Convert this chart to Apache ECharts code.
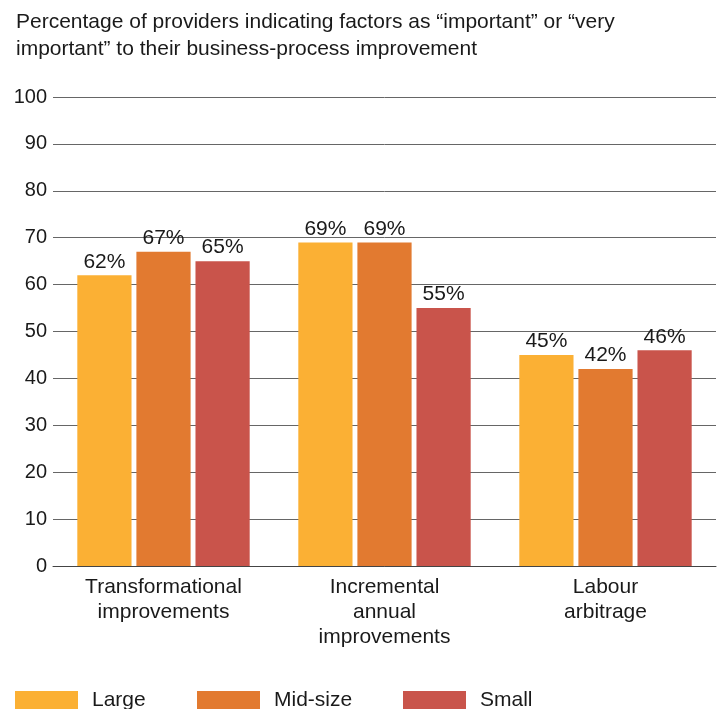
<!DOCTYPE html>
<html>
<head>
<meta charset="utf-8">
<script src="https://cdn.jsdelivr.net/npm/echarts@6/dist/echarts.min.js"></script>
<style>
  html, body { margin: 0; padding: 0; background: #fff; }
  #chart { width: 720px; height: 709px; }
</style>
</head>
<body>
<div id="chart"></div>
<script>
// Survey categories and per-size shares (percent)
const categories = ['Transformational\nimprovements', 'Incremental\nannual\nimprovements', 'Labour\narbitrage'];
const seriesNames = ['Large', 'Mid-size', 'Small'];
const largeValues = [62, 69, 45];
const midValues = [67, 69, 42];
const smallValues = [65, 55, 46];
const yTicks = [0, 10, 20, 30, 40, 50, 60, 70, 80, 90, 100];
const colors = ['#FBB034', '#E27A30', '#C9544B'];

const FONT = '"Liberation Sans", Arial, sans-serif';
const TEXT = '#1a1a1a';

const chart = echarts.init(document.getElementById('chart'), null, { renderer: 'canvas' });

function barSeries(name, values, color) {
  return {
    name: name,
    type: 'bar',
    data: values,
    itemStyle: { color: color },
    barGap: '9%',
    barCategoryGap: '22%',
    label: {
      show: true,
      position: 'top',
      distance: 3,
      formatter: '{c}%',
      color: TEXT,
      fontFamily: FONT,
      fontSize: 21
    }
  };
}

const legendBase = {
  top: 690,
  padding: 0,
  itemWidth: 63,
  itemHeight: 19,
  icon: 'rect',
  textStyle: { color: TEXT, fontFamily: FONT, fontSize: 21, padding: [0, 0, 0, 9] }
};

chart.setOption({
  animation: false,
  color: colors,
  title: {
    text: 'Percentage of providers indicating factors as “important” or “very\nimportant” to their business-process improvement',
    left: 16,
    top: 9,
    padding: 0,
    textStyle: { color: TEXT, fontFamily: FONT, fontSize: 21, fontWeight: 'normal', lineHeight: 27 }
  },
  legend: [
    Object.assign({}, legendBase, { left: 15, data: [seriesNames[0]] }),
    Object.assign({}, legendBase, { left: 197, data: [seriesNames[1]] }),
    Object.assign({}, legendBase, { left: 403, data: [seriesNames[2]] })
  ],
  grid: { left: 53, right: 4, top: 97, bottom: 143, containLabel: false },
  xAxis: {
    type: 'category',
    data: categories,
    axisTick: { show: false },
    axisLine: { lineStyle: { color: '#444', width: 1 } },
    axisLabel: { color: TEXT, fontFamily: FONT, fontSize: 21, lineHeight: 25, margin: 9 }
  },
  yAxis: {
    type: 'value',
    min: yTicks[0],
    max: yTicks[yTicks.length - 1],
    interval: 10,
    axisLine: { show: false },
    axisTick: { show: false },
    splitLine: { lineStyle: { color: '#666', width: 1 } },
    axisLabel: { color: TEXT, fontFamily: FONT, fontSize: 20, margin: 6 }
  },
  series: [
    barSeries(seriesNames[0], largeValues, colors[0]),
    barSeries(seriesNames[1], midValues, colors[1]),
    barSeries(seriesNames[2], smallValues, colors[2])
  ]
});
</script>
</body>
</html>
